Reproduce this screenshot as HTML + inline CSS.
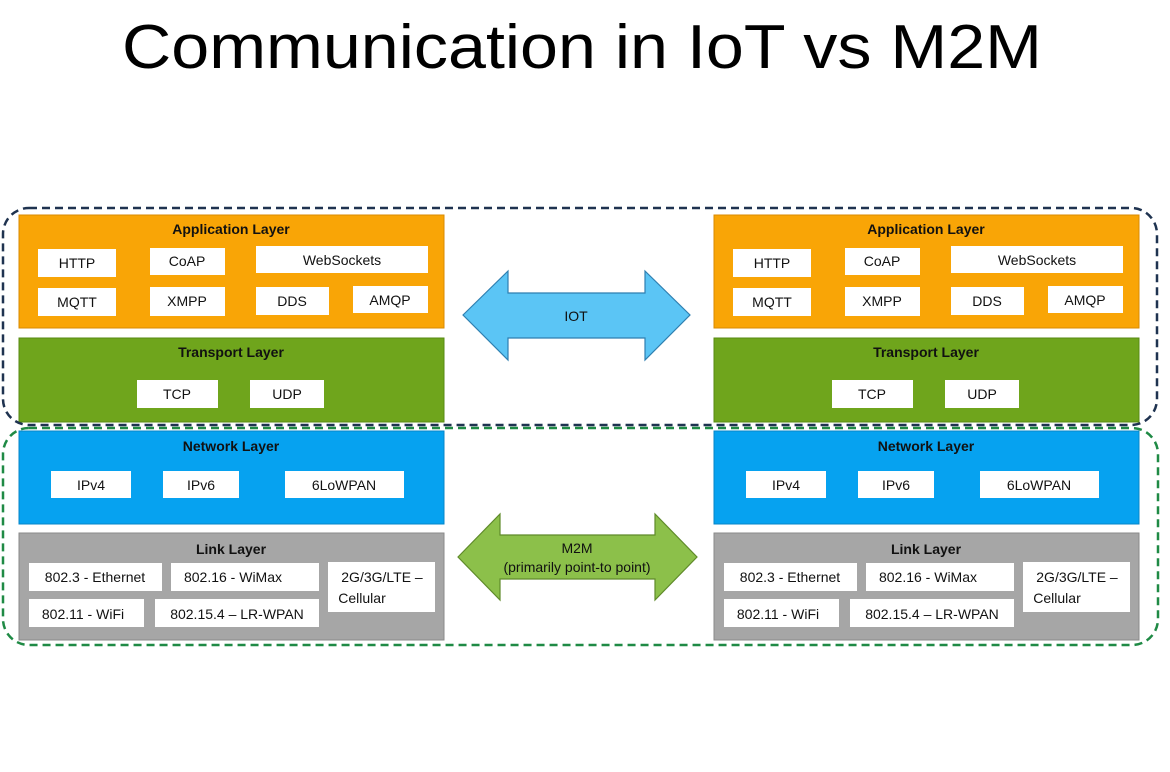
<!DOCTYPE html>
<html><head><meta charset="utf-8"><style>
html,body{margin:0;padding:0;background:#fff;}
svg{display:block;font-family:"Liberation Sans",sans-serif;}
.t{font-size:14px;text-anchor:middle;fill:#111;}
.h{font-size:14px;font-weight:bold;text-anchor:middle;fill:#111;}
</style></head><body>
<svg width="1170" height="772" viewBox="0 0 1170 772" xmlns="http://www.w3.org/2000/svg">
<rect width="1170" height="772" fill="#fff"/>
<text x="582" y="68" font-size="62" text-anchor="middle" textLength="920" lengthAdjust="spacingAndGlyphs" fill="#000">Communication in IoT vs M2M</text>

<defs>
<g id="stack">
  <rect x="19" y="215" width="425" height="113" fill="#f9a506" stroke="#d98a00"/>
  <text class="h" x="231" y="234">Application Layer</text>
  <rect x="38" y="249" width="78" height="28" fill="#fff"/><text class="t" x="77" y="268">HTTP</text>
  <rect x="150" y="248" width="75" height="27" fill="#fff"/><text class="t" x="187" y="266">CoAP</text>
  <rect x="256" y="246" width="172" height="27" fill="#fff"/><text class="t" x="342" y="265">WebSockets</text>
  <rect x="38" y="288" width="78" height="28" fill="#fff"/><text class="t" x="77" y="307">MQTT</text>
  <rect x="150" y="287" width="75" height="29" fill="#fff"/><text class="t" x="187" y="306">XMPP</text>
  <rect x="256" y="287" width="73" height="28" fill="#fff"/><text class="t" x="292" y="306">DDS</text>
  <rect x="353" y="286" width="75" height="27" fill="#fff"/><text class="t" x="390" y="305">AMQP</text>

  <rect x="19" y="338" width="425" height="84" fill="#6fa51c" stroke="#578a12"/>
  <text class="h" x="231" y="357">Transport Layer</text>
  <rect x="137" y="380" width="81" height="28" fill="#fff"/><text class="t" x="177" y="399">TCP</text>
  <rect x="250" y="380" width="74" height="28" fill="#fff"/><text class="t" x="287" y="399">UDP</text>

  <rect x="19" y="431" width="425" height="93" fill="#06a2f0" stroke="#0585c8"/>
  <text class="h" x="231" y="451">Network Layer</text>
  <rect x="51" y="471" width="80" height="27" fill="#fff"/><text class="t" x="91" y="490">IPv4</text>
  <rect x="163" y="471" width="76" height="27" fill="#fff"/><text class="t" x="201" y="490">IPv6</text>
  <rect x="285" y="471" width="119" height="27" fill="#fff"/><text class="t" x="344" y="490">6LoWPAN</text>

  <rect x="19" y="533" width="425" height="107" fill="#a6a6a6" stroke="#8a8a8a"/>
  <text class="h" x="231" y="554">Link Layer</text>
  <rect x="29" y="563" width="133" height="28" fill="#fff"/><text class="t" x="95" y="582">802.3 - Ethernet</text>
  <rect x="171" y="563" width="148" height="28" fill="#fff"/><text class="t" x="233" y="582">802.16 - WiMax</text>
  <rect x="328" y="562" width="107" height="50" fill="#fff"/>
  <text class="t" x="382" y="582">2G/3G/LTE –</text><text class="t" x="362" y="603">Cellular</text>
  <rect x="29" y="599" width="115" height="28" fill="#fff"/><text class="t" x="83" y="619">802.11 - WiFi</text>
  <rect x="155" y="599" width="164" height="28" fill="#fff"/><text class="t" x="237" y="619">802.15.4 – LR-WPAN</text>
</g>
</defs>
<use href="#stack"/>
<use href="#stack" transform="translate(695,0)"/>

<rect x="3" y="208" width="1154" height="217" rx="26" fill="none" stroke="#1f3350" stroke-width="2.5" stroke-dasharray="8,5"/>
<rect x="3" y="428" width="1155" height="217" rx="26" fill="none" stroke="#1f8a45" stroke-width="2.5" stroke-dasharray="8,5"/>

<polygon points="463,315 508,271 508,293 645,293 645,271 690,315 645,360 645,338 508,338 508,360" fill="#5bc5f5" stroke="#2f7fb0" stroke-width="1.2"/>
<text class="t" x="576" y="321">IOT</text>

<polygon points="458,557 500,514 500,535 655,535 655,514 697,557 655,600 655,579 500,579 500,600" fill="#8cc04a" stroke="#5f8a2a" stroke-width="1.2"/>
<text class="t" x="577" y="553">M2M</text>
<text class="t" x="577" y="572">(primarily point-to point)</text>
</svg>
</body></html>
